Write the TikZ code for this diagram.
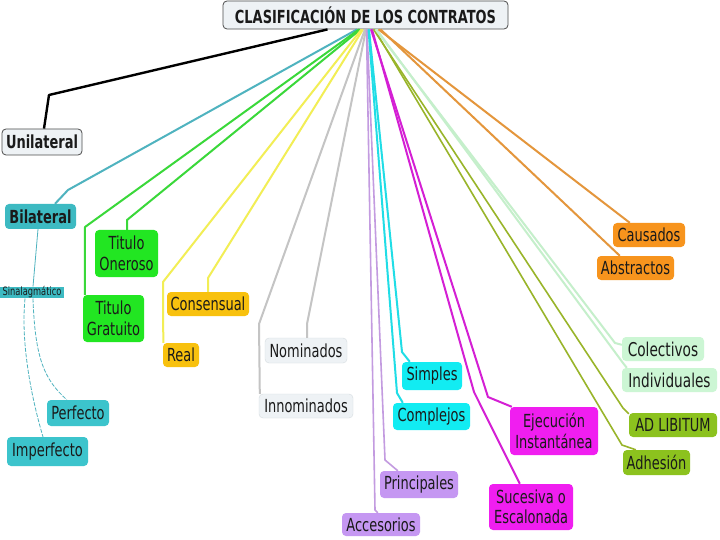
\documentclass[tikz,border=0pt]{standalone}
\usepackage{fontspec}
\setmainfont{DejaVu Sans}[FakeStretch=0.72]
\definecolor{txt}{HTML}{1A1A1A}
\definecolor{lteal}{HTML}{4FB3BF}
\definecolor{fteal}{HTML}{3DBAC2}
\definecolor{fteal2}{HTML}{3CC4CC}
\definecolor{lgreen}{HTML}{3AD83A}
\definecolor{fgreen}{HTML}{22E622}
\definecolor{lyellow}{HTML}{F2EE55}
\definecolor{fyellow}{HTML}{F8C10E}
\definecolor{lgray}{HTML}{C4C4C4}
\definecolor{fgray}{HTML}{EEF2F5}
\definecolor{bgray}{HTML}{D6DCE0}
\definecolor{lpurple}{HTML}{C39BE0}
\definecolor{fpurple}{HTML}{C597F2}
\definecolor{lcyan}{HTML}{20DDE6}
\definecolor{fcyan}{HTML}{12ECF2}
\definecolor{lmag}{HTML}{D41FD4}
\definecolor{fmag}{HTML}{F01EF0}
\definecolor{lolive}{HTML}{99B52A}
\definecolor{folive}{HTML}{8CC21E}
\definecolor{lmint}{HTML}{C5EFCB}
\definecolor{fmint}{HTML}{CCF6D4}
\definecolor{lorange}{HTML}{E4963C}
\definecolor{forange}{HTML}{F7941D}
\begin{document}
\begin{tikzpicture}[x=1pt,y=-1pt,
  box/.style={rounded corners=4pt, inner sep=0pt, align=center, text=txt,
    font=\fontsize{18}{20.5}\selectfont},
  conn/.style={line width=2pt, line join=round},
  thinconn/.style={line width=0.8pt, draw=lteal}]
\useasboundingbox (0,0) rectangle (720,540);
\fill[white] (0,0) rectangle (720,540);

% nodes
\node[box, fill=fgray, draw=black!70, line width=0.8pt, minimum width=285pt, minimum height=28pt,
  font=\fontsize{18}{20}\selectfont\bfseries] (title) at (365.5,15) {CLASIFICACIÓN DE LOS CONTRATOS};
\node[box, fill=fgray, draw=black!70, line width=0.8pt, minimum width=80pt, minimum height=26pt,
  font=\fontsize{18}{20}\selectfont\bfseries] (uni) at (42,142) {Unilateral};
\node[box, fill=fteal, minimum width=71pt, minimum height=25pt,
  font=\fontsize{18}{20}\selectfont\bfseries] (bil) at (40.5,216.5) {Bilateral};
\node[box, rounded corners=0pt, fill=fteal, minimum width=64pt, minimum height=11pt,
  font=\fontsize{11.5}{12}\selectfont] (sin) at (32,292.5) {Sinalagmático};
\node[box, fill=fteal2, minimum width=62pt, minimum height=26pt] (perf) at (78,413) {Perfecto};
\node[box, fill=fteal2, minimum width=81pt, minimum height=29pt] (imperf) at (47.5,451.5) {Imperfecto};
\node[box, fill=fgreen, minimum width=63pt, minimum height=47pt] (oner) at (126.5,253.5) {Titulo\\Oneroso};
\node[box, fill=fgreen, minimum width=61pt, minimum height=47pt] (grat) at (113.5,318.5) {Titulo\\Gratuito};
\node[box, fill=fyellow, minimum width=82pt, minimum height=24pt] (cons) at (208,304) {Consensual};
\node[box, fill=fyellow, minimum width=36pt, minimum height=24pt] (real) at (181,355) {Real};
\node[box, fill=fgray, draw=bgray, minimum width=82pt, minimum height=25pt] (nom) at (306,350.5) {Nominados};
\node[box, fill=fgray, draw=bgray, minimum width=94pt, minimum height=24pt] (innom) at (306,406) {Innominados};
\node[box, fill=fcyan, minimum width=60pt, minimum height=28pt] (simp) at (432,376) {Simples};
\node[box, fill=fcyan, minimum width=77pt, minimum height=27pt] (compl) at (431.5,416.5) {Complejos};
\node[box, fill=fpurple, minimum width=78pt, minimum height=27pt] (princ) at (419,484.5) {Principales};
\node[box, fill=fpurple, minimum width=78pt, minimum height=23pt] (acces) at (381,524.5) {Accesorios};
\node[box, fill=fmag, minimum width=88pt, minimum height=48pt] (ejec) at (554,431) {Ejecución\\Instantánea};
\node[box, fill=fmag, minimum width=84pt, minimum height=46pt] (suces) at (531,507) {Sucesiva o\\Escalonada};
\node[box, fill=forange, minimum width=72pt, minimum height=24pt] (caus) at (649,235) {Causados};
\node[box, fill=forange, minimum width=77pt, minimum height=24pt] (abst) at (635.5,268) {Abstractos};
\node[box, fill=fmint, minimum width=82pt, minimum height=24pt,
  font=\fontsize{19}{20}\selectfont] (colec) at (663,349) {Colectivos};
\node[box, fill=fmint, minimum width=95pt, minimum height=24pt,
  font=\fontsize{19}{20}\selectfont] (indiv) at (669.5,380) {Individuales};
\node[box, fill=folive, minimum width=88pt, minimum height=24pt] (adlib) at (673,425) {AD LIBITUM};
\node[box, fill=folive, minimum width=67pt, minimum height=25pt] (adh) at (656.5,462.5) {Adhesión};

% connectors
\draw[conn, black, line width=2.4pt] ([xshift=-38pt]title.south) -- (49,95) -- ([xshift=2pt]uni.north);
\draw[conn, lteal] ([xshift=-8.5pt]title.south) -- (68,190) -- ([xshift=14.5pt]bil.north);
\draw[conn, lgreen] ([xshift=-5pt]title.south) -- (127,220) -- ([xshift=0.5pt]oner.north);
\draw[conn, lgreen] ([xshift=-6.5pt]title.south) -- (85,227) -- ([xshift=2pt]grat.north west);
\draw[conn, lyellow] ([xshift=-2.5pt]title.south) -- (208,278) -- (cons.north);
\draw[conn, lyellow] ([xshift=-4pt]title.south) -- (163,282) -- ([xshift=0.5pt]real.north west);
\draw[conn, lgray] ([xshift=0.5pt]title.south) -- (307,324) -- ([xshift=1pt]nom.north);
\draw[conn, lgray] ([xshift=-0.5pt]title.south) -- (259,324) -- ([xshift=1pt]innom.north west);
\draw[conn, lpurple, line width=1.6pt] ([xshift=1.5pt]title.south) -- (385,460) -- ([xshift=18pt]princ.north west);
\draw[conn, lpurple, line width=1.6pt] ([xshift=1pt]title.south) -- (375,510) -- ([xshift=36pt]acces.north west);
\draw[conn, lcyan] ([xshift=3.5pt]title.south) -- (402,352) -- ([xshift=8pt]simp.north west);
\draw[conn, lcyan] ([xshift=3pt]title.south) -- (397,393) -- ([xshift=10pt]compl.north west);
\draw[conn, lmag] ([xshift=5.5pt]title.south) -- (488,397) -- ([xshift=2pt]ejec.north west);
\draw[conn, lmag] ([xshift=6.5pt]title.south) -- (474,392) -- ([xshift=31pt]suces.north west);
\draw[conn, lolive, line width=1.6pt] ([xshift=8pt]title.south) -- (623,408) -- ([yshift=-1pt]adlib.north west);
\draw[conn, lolive, line width=1.6pt] ([xshift=9pt]title.south) -- (622,445) -- ([xshift=13pt]adh.north west);
\draw[conn, lmint] ([xshift=10pt]title.south) -- (615,343) -- ([yshift=-8pt]colec.north west);
\draw[conn, lmint] ([xshift=11pt]title.south) -- (623,363) -- ([xshift=5pt]indiv.north west);
\draw[conn, lorange] ([xshift=13pt]title.south) -- ([xshift=17pt]caus.north west);
\draw[conn, lorange] ([xshift=15pt]title.south) -- ([xshift=23pt]abst.north west);
\draw[thinconn] ([xshift=-2.5pt]bil.south) -- ([xshift=1pt]sin.north);
\draw[thinconn, dash pattern=on 4pt off 1.5pt] ([xshift=-7pt]sin.south) .. controls (20,350) and (35,410) .. ([xshift=-4.5pt]imperf.north);
\draw[thinconn, dash pattern=on 4pt off 1.5pt] ([xshift=1pt]sin.south) .. controls (35,360) and (45,380) .. ([xshift=20pt]perf.north west);
\end{tikzpicture}
\end{document}
